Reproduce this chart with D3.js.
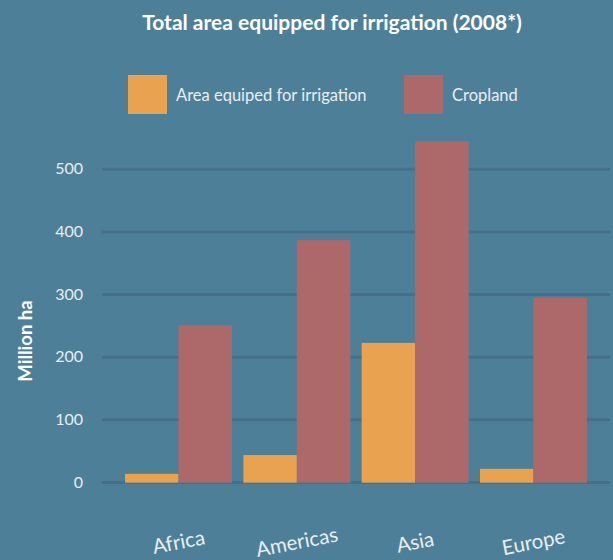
<!DOCTYPE html>
<html>
<head>
<meta charset="utf-8">
<script src="https://cdn.jsdelivr.net/npm/d3@7"></script>
<style>
  html, body { margin: 0; padding: 0; background: #4e7f99; }
  svg { display: block; font-family: Lato, "Noto Sans", sans-serif; }
</style>
</head>
<body>
<div id="grafico"></div>
<script>
document.addEventListener("DOMContentLoaded", () => {
    const width = 613;
    const height = 560;

    // datos (millones de ha)
    const regions = ["Africa", "Americas", "Asia", "Europe"];
    const irrigated = [13, 43, 222, 21];
    const cropland = [250, 386, 544, 294];
    const seriesNames = ["Area equiped for irrigation", "Cropland"];
    const yTicks = [0, 100, 200, 300, 400, 500];

    const colors = ["#e9a24f", "#ad6969"];
    const left = 102, right = 610, bottom = 482;

    // Escala x por region
    const xScale = d3.scaleBand()
        .domain(regions)
        .range([left, right])
        .paddingInner(0.096)
        .paddingOuter(0.195);

    // Escala x dentro de cada grupo
    const xSub = d3.scaleBand()
        .domain([0, 1])
        .range([0, xScale.bandwidth()]);

    // Escala y
    const yScale = d3.scaleLinear()
        .domain([0, 500])
        .range([bottom, bottom - 5 * 62.65]);

    const svg = d3.select('#grafico')
        .append('svg')
        .attr('width', width)
        .attr('height', height);

    svg.append('rect')
        .attr('width', width)
        .attr('height', height)
        .attr('fill', '#4e7f99');

    // Titulo
    svg.append('text')
        .attr('x', 332)
        .attr('y', 30)
        .attr('text-anchor', 'middle')
        .attr('fill', '#ffffff')
        .attr('font-size', 21)
        .attr('font-weight', 'bold')
        .text('Total area equipped for irrigation (2008*)');

    // Leyenda
    const legendX = [128, 404];
    const legend = svg.append('g');
    seriesNames.forEach((name, i) => {
        legend.append('rect')
            .attr('x', legendX[i])
            .attr('y', 75)
            .attr('width', 39)
            .attr('height', 39)
            .attr('fill', colors[i]);
        legend.append('text')
            .attr('x', legendX[i] + 48)
            .attr('y', 95)
            .attr('dy', '0.35em')
            .attr('fill', '#e8eef2')
            .attr('font-size', 16.5)
            .text(name);
    });

    // Eje y con lineas de cuadricula
    const yAxis = d3.axisLeft(yScale)
        .tickValues(yTicks)
        .tickSize(-(right - left))
        .tickPadding(19);

    svg.append('g')
        .attr('id', 'y-axis')
        .attr('transform', `translate(${left}, 0)`)
        .call(yAxis)
        .call(g => g.select('.domain').remove())
        .call(g => g.selectAll('.tick line')
            .attr('stroke', '#46708a')
            .attr('stroke-width', 3))
        .call(g => g.selectAll('.tick text')
            .attr('fill', '#e8eef2')
            .attr('font-size', 16)
            .attr('font-family', 'Lato, "Noto Sans", sans-serif'));

    // Titulo del eje y
    svg.append('text')
        .attr('transform', 'translate(26, 341) rotate(-90)')
        .attr('text-anchor', 'middle')
        .attr('dy', '0.35em')
        .attr('fill', '#ffffff')
        .attr('font-size', 18.5)
        .attr('font-weight', 'bold')
        .text('Million ha');

    // Barras
    const groups = svg.selectAll('g.region')
        .data(regions)
        .enter()
        .append('g')
        .attr('class', 'region')
        .attr('transform', d => `translate(${xScale(d)}, 0)`);

    groups.selectAll('rect')
        .data((d, i) => [irrigated[i], cropland[i]])
        .enter()
        .append('rect')
        .attr('x', (d, j) => xSub(j))
        .attr('y', d => yScale(d))
        .attr('width', xSub.bandwidth())
        .attr('height', d => bottom + 0.7 - yScale(d))
        .attr('fill', (d, j) => colors[j]);

    // Etiquetas del eje x
    svg.append('g')
        .selectAll('text')
        .data(regions)
        .enter()
        .append('text')
        .attr('transform', d => `translate(${xScale(d) + xScale.bandwidth() / 2}, 542) rotate(-11)`)
        .attr('text-anchor', 'middle')
        .attr('dy', '0.35em')
        .attr('fill', '#e8eef2')
        .attr('font-size', 20.5)
        .text(d => d);
});
</script>
</body>
</html>
